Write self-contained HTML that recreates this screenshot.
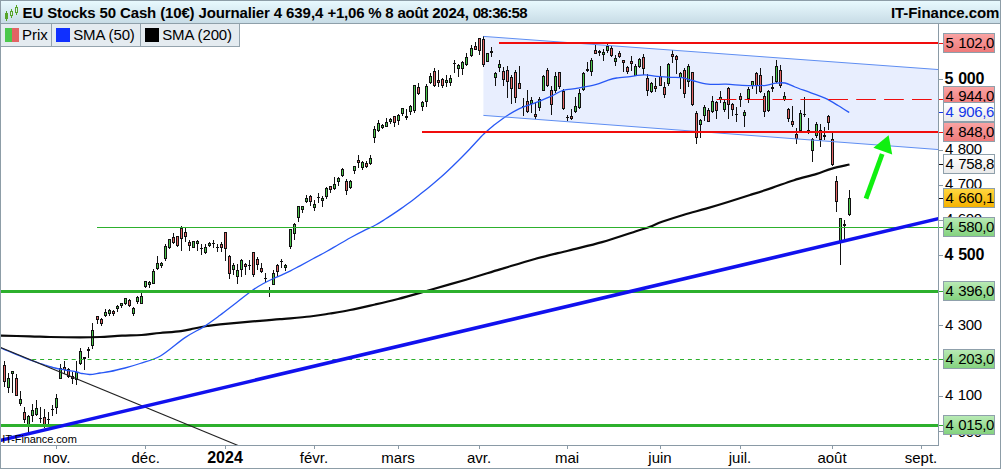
<!DOCTYPE html><html><head><meta charset="utf-8"><title>EU Stocks 50 Cash</title>
<style>
html,body{margin:0;padding:0;background:#fff;}
body{width:1001px;height:469px;position:relative;overflow:hidden;font-family:"Liberation Sans",Arial,sans-serif;color:#000;}
#frame{position:absolute;left:0;top:0;width:999px;height:467px;border:1px solid #8d9da7;box-sizing:content-box;pointer-events:none;}
#hdr{position:absolute;left:1px;top:1px;width:999px;height:22px;background:linear-gradient(#e8f9fe,#c8dce6);border-bottom:1px solid #8e9fa9;}
#title{position:absolute;left:22.6px;top:3.5px;font-weight:bold;font-size:15px;line-height:18px;white-space:nowrap;letter-spacing:-0.21px;}
#brand{position:absolute;right:1.6px;top:3.5px;font-weight:bold;font-size:15px;line-height:18px;white-space:nowrap;letter-spacing:-0.05px;}
#legend{position:absolute;left:1px;top:24px;height:22px;width:238px;background:#e4ebf0;border-bottom:1px solid #94a3ad;border-right:1px solid #94a3ad;}
#legend div{position:absolute;top:0;height:22px;font-size:15px;line-height:22px;white-space:nowrap;border-right:1px solid #94a3ad;box-sizing:border-box;}
#legend span{position:absolute;top:-0.3px;}
#legend i{position:absolute;left:4px;top:4px;width:14px;height:14px;display:block;}
.yl{position:absolute;left:945px;font-size:15px;letter-spacing:-0.42px;word-spacing:1.2px;line-height:16px;white-space:nowrap;}
.yl.b{font-weight:bold;font-size:16px;letter-spacing:-0.3px;word-spacing:1px;left:944.5px;margin-top:0px}
.yb{position:absolute;left:943px;width:50px;height:18px;border:1px solid #8fa0ab;font-size:15px;letter-spacing:-0.42px;word-spacing:1.2px;line-height:17px;text-indent:1.5px;white-space:nowrap;overflow:hidden;}
.tick{position:absolute;left:939px;width:4px;height:1px;background:#8a9aa6;}
.xl{position:absolute;top:448.7px;font-size:15px;line-height:18px;white-space:nowrap;transform:translateX(-50%);}
#wm{position:absolute;left:2.3px;top:432.6px;font-size:11px;line-height:13px;letter-spacing:-0.1px;}
</style></head><body>
<div id="hdr"></div>
<div id="legend"><div style="left:0;width:51px"><i style="background:linear-gradient(90deg,#4cc84c 50%,#e26464 50%)"></i><span style="left:21px">Prix</span></div><div style="left:51px;width:89px"><i style="background:#1030ff"></i><span style="left:21.2px;letter-spacing:-0.12px">SMA (50)</span></div><div style="left:140px;width:98px;border-right:none"><i style="background:#000"></i><span style="left:21.2px;letter-spacing:-0.12px">SMA (200)</span></div></div>
<svg width="1001" height="469" viewBox="0 0 1001 469" style="position:absolute;left:0;top:0">
<defs><clipPath id="plot"><rect x="1" y="24" width="937" height="421"/></clipPath>
<linearGradient id="gr" x1="0" y1="0" x2="0" y2="1"><stop offset="0" stop-color="#f9a3a3"/><stop offset="1" stop-color="#f07878"/></linearGradient>
<linearGradient id="gg" x1="0" y1="0" x2="0" y2="1"><stop offset="0" stop-color="#b4e8b0"/><stop offset="1" stop-color="#7fd07a"/></linearGradient>
<linearGradient id="gy" x1="0" y1="0" x2="0" y2="1"><stop offset="0" stop-color="#ffd84a"/><stop offset="1" stop-color="#f5b400"/></linearGradient>
<linearGradient id="gw" x1="0" y1="0" x2="0" y2="1"><stop offset="0" stop-color="#ffffff"/><stop offset="1" stop-color="#e9e9e9"/></linearGradient>
</defs>
<g clip-path="url(#plot)">
<polygon points="483.4,36.4 939,69.6 939,149.6 483.4,115.4" fill="#e8eefe"/>
<g shape-rendering="crispEdges">
<rect x="4" y="361" width="1" height="26" fill="#111"/>
<rect x="3" y="365" width="3" height="17" fill="#111"/>
<rect x="4" y="366" width="1" height="15" fill="#e26464"/>
<rect x="8" y="373" width="1" height="20" fill="#111"/>
<rect x="7" y="378" width="3" height="10" fill="#111"/>
<rect x="8" y="379" width="1" height="8" fill="#4cc84c"/>
<rect x="12" y="371" width="1" height="22" fill="#111"/>
<rect x="11" y="371" width="3" height="3" fill="#111"/>
<rect x="12" y="372" width="1" height="1" fill="#4cc84c"/>
<rect x="16" y="374" width="1" height="22" fill="#111"/>
<rect x="15" y="378" width="3" height="18" fill="#111"/>
<rect x="16" y="379" width="1" height="16" fill="#e26464"/>
<rect x="20" y="391" width="1" height="15" fill="#111"/>
<rect x="19" y="399" width="3" height="5" fill="#111"/>
<rect x="20" y="400" width="1" height="3" fill="#4cc84c"/>
<rect x="24" y="407" width="1" height="16" fill="#111"/>
<rect x="23" y="412" width="3" height="8" fill="#111"/>
<rect x="24" y="413" width="1" height="6" fill="#e26464"/>
<rect x="28" y="415" width="1" height="18" fill="#111"/>
<rect x="27" y="416" width="3" height="11" fill="#111"/>
<rect x="28" y="417" width="1" height="9" fill="#4cc84c"/>
<rect x="32" y="404" width="1" height="18" fill="#111"/>
<rect x="31" y="410" width="3" height="6" fill="#111"/>
<rect x="32" y="411" width="1" height="4" fill="#4cc84c"/>
<rect x="36" y="400" width="1" height="16" fill="#111"/>
<rect x="35" y="408" width="3" height="7" fill="#111"/>
<rect x="36" y="409" width="1" height="5" fill="#4cc84c"/>
<rect x="40" y="407" width="1" height="16" fill="#111"/>
<rect x="39" y="418" width="3" height="1" fill="#111"/>
<rect x="44" y="409" width="1" height="19" fill="#111"/>
<rect x="43" y="417" width="3" height="9" fill="#111"/>
<rect x="44" y="418" width="1" height="7" fill="#e26464"/>
<rect x="48" y="412" width="1" height="12" fill="#111"/>
<rect x="47" y="419" width="3" height="1" fill="#111"/>
<rect x="52" y="405" width="1" height="11" fill="#111"/>
<rect x="51" y="409" width="3" height="1" fill="#111"/>
<rect x="56" y="394" width="1" height="20" fill="#111"/>
<rect x="55" y="398" width="3" height="10" fill="#111"/>
<rect x="56" y="399" width="1" height="8" fill="#4cc84c"/>
<rect x="60" y="364" width="1" height="15" fill="#111"/>
<rect x="59" y="368" width="3" height="11" fill="#111"/>
<rect x="60" y="369" width="1" height="9" fill="#4cc84c"/>
<rect x="64" y="361" width="1" height="13" fill="#111"/>
<rect x="63" y="367" width="3" height="3" fill="#111"/>
<rect x="64" y="368" width="1" height="1" fill="#e26464"/>
<rect x="68" y="368" width="1" height="10" fill="#111"/>
<rect x="67" y="369" width="3" height="8" fill="#111"/>
<rect x="68" y="370" width="1" height="6" fill="#e26464"/>
<rect x="72" y="372" width="1" height="12" fill="#111"/>
<rect x="71" y="376" width="3" height="3" fill="#111"/>
<rect x="72" y="377" width="1" height="1" fill="#e26464"/>
<rect x="76" y="361" width="1" height="24" fill="#111"/>
<rect x="75" y="372" width="3" height="8" fill="#111"/>
<rect x="76" y="373" width="1" height="6" fill="#4cc84c"/>
<rect x="80" y="348" width="1" height="17" fill="#111"/>
<rect x="79" y="351" width="3" height="13" fill="#111"/>
<rect x="80" y="352" width="1" height="11" fill="#4cc84c"/>
<rect x="84" y="357" width="1" height="13" fill="#111"/>
<rect x="83" y="357" width="3" height="2" fill="#111"/>
<rect x="88" y="347" width="1" height="11" fill="#111"/>
<rect x="87" y="349" width="3" height="2" fill="#111"/>
<rect x="92" y="323" width="1" height="26" fill="#111"/>
<rect x="91" y="330" width="3" height="16" fill="#111"/>
<rect x="92" y="331" width="1" height="14" fill="#4cc84c"/>
<rect x="97" y="316" width="1" height="8" fill="#111"/>
<rect x="96" y="316" width="3" height="4" fill="#111"/>
<rect x="97" y="317" width="1" height="2" fill="#e26464"/>
<rect x="101" y="318" width="1" height="8" fill="#111"/>
<rect x="100" y="319" width="3" height="5" fill="#111"/>
<rect x="101" y="320" width="1" height="3" fill="#e26464"/>
<rect x="105" y="309" width="1" height="8" fill="#111"/>
<rect x="104" y="312" width="3" height="4" fill="#111"/>
<rect x="105" y="313" width="1" height="2" fill="#4cc84c"/>
<rect x="109" y="309" width="1" height="7" fill="#111"/>
<rect x="108" y="310" width="3" height="4" fill="#111"/>
<rect x="109" y="311" width="1" height="2" fill="#4cc84c"/>
<rect x="113" y="310" width="1" height="6" fill="#111"/>
<rect x="112" y="311" width="3" height="3" fill="#111"/>
<rect x="113" y="312" width="1" height="1" fill="#e26464"/>
<rect x="117" y="305" width="1" height="7" fill="#111"/>
<rect x="116" y="306" width="3" height="3" fill="#111"/>
<rect x="117" y="307" width="1" height="1" fill="#4cc84c"/>
<rect x="121" y="303" width="1" height="5" fill="#111"/>
<rect x="120" y="303" width="3" height="3" fill="#111"/>
<rect x="121" y="304" width="1" height="1" fill="#4cc84c"/>
<rect x="125" y="298" width="1" height="7" fill="#111"/>
<rect x="124" y="298" width="3" height="6" fill="#111"/>
<rect x="125" y="299" width="1" height="4" fill="#4cc84c"/>
<rect x="129" y="299" width="1" height="8" fill="#111"/>
<rect x="128" y="300" width="3" height="6" fill="#111"/>
<rect x="129" y="301" width="1" height="4" fill="#e26464"/>
<rect x="133" y="307" width="1" height="9" fill="#111"/>
<rect x="132" y="308" width="3" height="6" fill="#111"/>
<rect x="133" y="309" width="1" height="4" fill="#4cc84c"/>
<rect x="137" y="296" width="1" height="8" fill="#111"/>
<rect x="136" y="297" width="3" height="5" fill="#111"/>
<rect x="137" y="298" width="1" height="3" fill="#4cc84c"/>
<rect x="141" y="293" width="1" height="11" fill="#111"/>
<rect x="140" y="296" width="3" height="8" fill="#111"/>
<rect x="141" y="297" width="1" height="6" fill="#4cc84c"/>
<rect x="145" y="281" width="1" height="7" fill="#111"/>
<rect x="144" y="281" width="3" height="6" fill="#111"/>
<rect x="145" y="282" width="1" height="4" fill="#4cc84c"/>
<rect x="149" y="281" width="1" height="7" fill="#111"/>
<rect x="148" y="282" width="3" height="3" fill="#111"/>
<rect x="149" y="283" width="1" height="1" fill="#4cc84c"/>
<rect x="153" y="269" width="1" height="15" fill="#111"/>
<rect x="152" y="271" width="3" height="13" fill="#111"/>
<rect x="153" y="272" width="1" height="11" fill="#4cc84c"/>
<rect x="157" y="256" width="1" height="14" fill="#111"/>
<rect x="156" y="263" width="3" height="6" fill="#111"/>
<rect x="157" y="264" width="1" height="4" fill="#4cc84c"/>
<rect x="161" y="262" width="1" height="6" fill="#111"/>
<rect x="160" y="263" width="3" height="3" fill="#111"/>
<rect x="161" y="264" width="1" height="1" fill="#4cc84c"/>
<rect x="165" y="244" width="1" height="17" fill="#111"/>
<rect x="164" y="246" width="3" height="13" fill="#111"/>
<rect x="165" y="247" width="1" height="11" fill="#4cc84c"/>
<rect x="169" y="239" width="1" height="10" fill="#111"/>
<rect x="168" y="239" width="3" height="9" fill="#111"/>
<rect x="169" y="240" width="1" height="7" fill="#4cc84c"/>
<rect x="173" y="233" width="1" height="11" fill="#111"/>
<rect x="172" y="237" width="3" height="6" fill="#111"/>
<rect x="173" y="238" width="1" height="4" fill="#e26464"/>
<rect x="177" y="236" width="1" height="11" fill="#111"/>
<rect x="176" y="236" width="3" height="10" fill="#111"/>
<rect x="177" y="237" width="1" height="8" fill="#e26464"/>
<rect x="181" y="226" width="1" height="25" fill="#111"/>
<rect x="180" y="228" width="3" height="11" fill="#111"/>
<rect x="181" y="229" width="1" height="9" fill="#e26464"/>
<rect x="185" y="228" width="1" height="14" fill="#111"/>
<rect x="184" y="232" width="3" height="5" fill="#111"/>
<rect x="185" y="233" width="1" height="3" fill="#e26464"/>
<rect x="189" y="240" width="1" height="11" fill="#111"/>
<rect x="188" y="242" width="3" height="4" fill="#111"/>
<rect x="189" y="243" width="1" height="2" fill="#e26464"/>
<rect x="193" y="241" width="1" height="7" fill="#111"/>
<rect x="192" y="241" width="3" height="7" fill="#111"/>
<rect x="193" y="242" width="1" height="5" fill="#4cc84c"/>
<rect x="197" y="240" width="1" height="11" fill="#111"/>
<rect x="196" y="241" width="3" height="3" fill="#111"/>
<rect x="197" y="242" width="1" height="1" fill="#4cc84c"/>
<rect x="201" y="244" width="1" height="11" fill="#111"/>
<rect x="200" y="248" width="3" height="1" fill="#111"/>
<rect x="205" y="244" width="1" height="10" fill="#111"/>
<rect x="204" y="247" width="3" height="6" fill="#111"/>
<rect x="205" y="248" width="1" height="4" fill="#4cc84c"/>
<rect x="209" y="242" width="1" height="5" fill="#111"/>
<rect x="208" y="243" width="3" height="3" fill="#111"/>
<rect x="209" y="244" width="1" height="1" fill="#4cc84c"/>
<rect x="213" y="240" width="1" height="8" fill="#111"/>
<rect x="212" y="243" width="3" height="1" fill="#111"/>
<rect x="217" y="244" width="1" height="8" fill="#111"/>
<rect x="216" y="247" width="3" height="1" fill="#111"/>
<rect x="221" y="242" width="1" height="10" fill="#111"/>
<rect x="220" y="244" width="3" height="4" fill="#111"/>
<rect x="221" y="245" width="1" height="2" fill="#e26464"/>
<rect x="225" y="232" width="1" height="29" fill="#111"/>
<rect x="224" y="232" width="3" height="17" fill="#111"/>
<rect x="225" y="233" width="1" height="15" fill="#e26464"/>
<rect x="229" y="255" width="1" height="24" fill="#111"/>
<rect x="228" y="256" width="3" height="18" fill="#111"/>
<rect x="229" y="257" width="1" height="16" fill="#e26464"/>
<rect x="233" y="263" width="1" height="12" fill="#111"/>
<rect x="232" y="265" width="3" height="5" fill="#111"/>
<rect x="233" y="266" width="1" height="3" fill="#4cc84c"/>
<rect x="237" y="264" width="1" height="20" fill="#111"/>
<rect x="236" y="270" width="3" height="7" fill="#111"/>
<rect x="237" y="271" width="1" height="5" fill="#4cc84c"/>
<rect x="241" y="259" width="1" height="18" fill="#111"/>
<rect x="240" y="260" width="3" height="10" fill="#111"/>
<rect x="241" y="261" width="1" height="8" fill="#4cc84c"/>
<rect x="245" y="263" width="1" height="12" fill="#111"/>
<rect x="244" y="264" width="3" height="3" fill="#111"/>
<rect x="245" y="265" width="1" height="1" fill="#e26464"/>
<rect x="249" y="260" width="1" height="10" fill="#111"/>
<rect x="248" y="265" width="3" height="1" fill="#111"/>
<rect x="253" y="252" width="1" height="25" fill="#111"/>
<rect x="252" y="252" width="3" height="23" fill="#111"/>
<rect x="253" y="253" width="1" height="21" fill="#e26464"/>
<rect x="257" y="257" width="1" height="13" fill="#111"/>
<rect x="256" y="259" width="3" height="6" fill="#111"/>
<rect x="257" y="260" width="1" height="4" fill="#e26464"/>
<rect x="261" y="263" width="1" height="10" fill="#111"/>
<rect x="260" y="268" width="3" height="4" fill="#111"/>
<rect x="261" y="269" width="1" height="2" fill="#e26464"/>
<rect x="265" y="273" width="1" height="9" fill="#111"/>
<rect x="264" y="278" width="3" height="1" fill="#111"/>
<rect x="269" y="287" width="1" height="10" fill="#111"/>
<rect x="268" y="290" width="3" height="1" fill="#111"/>
<rect x="273" y="270" width="1" height="15" fill="#111"/>
<rect x="272" y="273" width="3" height="12" fill="#111"/>
<rect x="273" y="274" width="1" height="10" fill="#4cc84c"/>
<rect x="277" y="264" width="1" height="13" fill="#111"/>
<rect x="276" y="265" width="3" height="7" fill="#111"/>
<rect x="277" y="266" width="1" height="5" fill="#e26464"/>
<rect x="281" y="259" width="1" height="9" fill="#111"/>
<rect x="280" y="261" width="3" height="1" fill="#111"/>
<rect x="285" y="264" width="1" height="7" fill="#111"/>
<rect x="284" y="265" width="3" height="3" fill="#111"/>
<rect x="285" y="266" width="1" height="1" fill="#4cc84c"/>
<rect x="290" y="229" width="1" height="20" fill="#111"/>
<rect x="289" y="229" width="3" height="18" fill="#111"/>
<rect x="290" y="230" width="1" height="16" fill="#4cc84c"/>
<rect x="294" y="223" width="1" height="17" fill="#111"/>
<rect x="293" y="224" width="3" height="10" fill="#111"/>
<rect x="294" y="225" width="1" height="8" fill="#4cc84c"/>
<rect x="298" y="206" width="1" height="16" fill="#111"/>
<rect x="297" y="206" width="3" height="12" fill="#111"/>
<rect x="298" y="207" width="1" height="10" fill="#4cc84c"/>
<rect x="302" y="206" width="1" height="7" fill="#111"/>
<rect x="301" y="206" width="3" height="4" fill="#111"/>
<rect x="302" y="207" width="1" height="2" fill="#4cc84c"/>
<rect x="306" y="195" width="1" height="8" fill="#111"/>
<rect x="305" y="198" width="3" height="4" fill="#111"/>
<rect x="306" y="199" width="1" height="2" fill="#4cc84c"/>
<rect x="310" y="195" width="1" height="11" fill="#111"/>
<rect x="309" y="196" width="3" height="6" fill="#111"/>
<rect x="310" y="197" width="1" height="4" fill="#e26464"/>
<rect x="314" y="200" width="1" height="11" fill="#111"/>
<rect x="313" y="204" width="3" height="4" fill="#111"/>
<rect x="314" y="205" width="1" height="2" fill="#4cc84c"/>
<rect x="318" y="193" width="1" height="10" fill="#111"/>
<rect x="317" y="197" width="3" height="1" fill="#111"/>
<rect x="322" y="196" width="1" height="11" fill="#111"/>
<rect x="321" y="198" width="3" height="3" fill="#111"/>
<rect x="322" y="199" width="1" height="1" fill="#4cc84c"/>
<rect x="326" y="187" width="1" height="12" fill="#111"/>
<rect x="325" y="188" width="3" height="9" fill="#111"/>
<rect x="326" y="189" width="1" height="7" fill="#4cc84c"/>
<rect x="330" y="186" width="1" height="7" fill="#111"/>
<rect x="329" y="186" width="3" height="4" fill="#111"/>
<rect x="330" y="187" width="1" height="2" fill="#e26464"/>
<rect x="334" y="177" width="1" height="13" fill="#111"/>
<rect x="333" y="184" width="3" height="5" fill="#111"/>
<rect x="334" y="185" width="1" height="3" fill="#4cc84c"/>
<rect x="338" y="177" width="1" height="9" fill="#111"/>
<rect x="337" y="178" width="3" height="4" fill="#111"/>
<rect x="338" y="179" width="1" height="2" fill="#4cc84c"/>
<rect x="342" y="168" width="1" height="9" fill="#111"/>
<rect x="341" y="169" width="3" height="7" fill="#111"/>
<rect x="342" y="170" width="1" height="5" fill="#4cc84c"/>
<rect x="346" y="179" width="1" height="16" fill="#111"/>
<rect x="345" y="181" width="3" height="10" fill="#111"/>
<rect x="346" y="182" width="1" height="8" fill="#e26464"/>
<rect x="350" y="180" width="1" height="9" fill="#111"/>
<rect x="349" y="181" width="3" height="7" fill="#111"/>
<rect x="350" y="182" width="1" height="5" fill="#4cc84c"/>
<rect x="354" y="166" width="1" height="8" fill="#111"/>
<rect x="353" y="166" width="3" height="5" fill="#111"/>
<rect x="354" y="167" width="1" height="3" fill="#4cc84c"/>
<rect x="358" y="155" width="1" height="13" fill="#111"/>
<rect x="357" y="160" width="3" height="3" fill="#111"/>
<rect x="358" y="161" width="1" height="1" fill="#e26464"/>
<rect x="362" y="161" width="1" height="9" fill="#111"/>
<rect x="361" y="162" width="3" height="6" fill="#111"/>
<rect x="362" y="163" width="1" height="4" fill="#4cc84c"/>
<rect x="366" y="161" width="1" height="7" fill="#111"/>
<rect x="365" y="163" width="3" height="4" fill="#111"/>
<rect x="366" y="164" width="1" height="2" fill="#e26464"/>
<rect x="370" y="155" width="1" height="10" fill="#111"/>
<rect x="369" y="158" width="3" height="6" fill="#111"/>
<rect x="370" y="159" width="1" height="4" fill="#4cc84c"/>
<rect x="374" y="126" width="1" height="17" fill="#111"/>
<rect x="373" y="129" width="3" height="9" fill="#111"/>
<rect x="374" y="130" width="1" height="7" fill="#4cc84c"/>
<rect x="378" y="120" width="1" height="12" fill="#111"/>
<rect x="377" y="123" width="3" height="8" fill="#111"/>
<rect x="378" y="124" width="1" height="6" fill="#4cc84c"/>
<rect x="382" y="124" width="1" height="5" fill="#111"/>
<rect x="381" y="125" width="3" height="3" fill="#111"/>
<rect x="382" y="126" width="1" height="1" fill="#4cc84c"/>
<rect x="386" y="118" width="1" height="9" fill="#111"/>
<rect x="385" y="122" width="3" height="5" fill="#111"/>
<rect x="386" y="123" width="1" height="3" fill="#4cc84c"/>
<rect x="390" y="118" width="1" height="6" fill="#111"/>
<rect x="389" y="119" width="3" height="3" fill="#111"/>
<rect x="390" y="120" width="1" height="1" fill="#4cc84c"/>
<rect x="394" y="116" width="1" height="11" fill="#111"/>
<rect x="393" y="116" width="3" height="7" fill="#111"/>
<rect x="394" y="117" width="1" height="5" fill="#e26464"/>
<rect x="398" y="114" width="1" height="11" fill="#111"/>
<rect x="397" y="115" width="3" height="6" fill="#111"/>
<rect x="398" y="116" width="1" height="4" fill="#4cc84c"/>
<rect x="402" y="108" width="1" height="8" fill="#111"/>
<rect x="401" y="108" width="3" height="6" fill="#111"/>
<rect x="402" y="109" width="1" height="4" fill="#4cc84c"/>
<rect x="406" y="109" width="1" height="11" fill="#111"/>
<rect x="405" y="116" width="3" height="2" fill="#111"/>
<rect x="410" y="105" width="1" height="10" fill="#111"/>
<rect x="409" y="106" width="3" height="6" fill="#111"/>
<rect x="410" y="107" width="1" height="4" fill="#4cc84c"/>
<rect x="414" y="85" width="1" height="28" fill="#111"/>
<rect x="413" y="85" width="3" height="26" fill="#111"/>
<rect x="414" y="86" width="1" height="24" fill="#4cc84c"/>
<rect x="418" y="83" width="1" height="12" fill="#111"/>
<rect x="417" y="87" width="3" height="7" fill="#111"/>
<rect x="418" y="88" width="1" height="5" fill="#e26464"/>
<rect x="422" y="101" width="1" height="10" fill="#111"/>
<rect x="421" y="102" width="3" height="5" fill="#111"/>
<rect x="422" y="103" width="1" height="3" fill="#4cc84c"/>
<rect x="426" y="84" width="1" height="23" fill="#111"/>
<rect x="425" y="86" width="3" height="16" fill="#111"/>
<rect x="426" y="87" width="1" height="14" fill="#4cc84c"/>
<rect x="430" y="73" width="1" height="11" fill="#111"/>
<rect x="429" y="76" width="3" height="7" fill="#111"/>
<rect x="430" y="77" width="1" height="5" fill="#4cc84c"/>
<rect x="434" y="68" width="1" height="19" fill="#111"/>
<rect x="433" y="71" width="3" height="15" fill="#111"/>
<rect x="434" y="72" width="1" height="13" fill="#e26464"/>
<rect x="438" y="70" width="1" height="17" fill="#111"/>
<rect x="437" y="80" width="3" height="3" fill="#111"/>
<rect x="438" y="81" width="1" height="1" fill="#e26464"/>
<rect x="442" y="78" width="1" height="10" fill="#111"/>
<rect x="441" y="79" width="3" height="7" fill="#111"/>
<rect x="442" y="80" width="1" height="5" fill="#e26464"/>
<rect x="446" y="75" width="1" height="12" fill="#111"/>
<rect x="445" y="80" width="3" height="3" fill="#111"/>
<rect x="446" y="81" width="1" height="1" fill="#4cc84c"/>
<rect x="450" y="75" width="1" height="11" fill="#111"/>
<rect x="449" y="78" width="3" height="5" fill="#111"/>
<rect x="450" y="79" width="1" height="3" fill="#4cc84c"/>
<rect x="454" y="60" width="1" height="13" fill="#111"/>
<rect x="453" y="63" width="3" height="1" fill="#111"/>
<rect x="458" y="64" width="1" height="13" fill="#111"/>
<rect x="457" y="65" width="3" height="4" fill="#111"/>
<rect x="458" y="66" width="1" height="2" fill="#4cc84c"/>
<rect x="462" y="61" width="1" height="14" fill="#111"/>
<rect x="461" y="62" width="3" height="7" fill="#111"/>
<rect x="462" y="63" width="1" height="5" fill="#4cc84c"/>
<rect x="466" y="53" width="1" height="13" fill="#111"/>
<rect x="465" y="57" width="3" height="8" fill="#111"/>
<rect x="466" y="58" width="1" height="6" fill="#4cc84c"/>
<rect x="471" y="45" width="1" height="12" fill="#111"/>
<rect x="470" y="48" width="3" height="8" fill="#111"/>
<rect x="471" y="49" width="1" height="6" fill="#4cc84c"/>
<rect x="475" y="42" width="1" height="8" fill="#111"/>
<rect x="474" y="46" width="3" height="4" fill="#111"/>
<rect x="475" y="47" width="1" height="2" fill="#e26464"/>
<rect x="479" y="38" width="1" height="17" fill="#111"/>
<rect x="478" y="38" width="3" height="13" fill="#111"/>
<rect x="479" y="39" width="1" height="11" fill="#e26464"/>
<rect x="483" y="36" width="1" height="31" fill="#111"/>
<rect x="482" y="39" width="3" height="26" fill="#111"/>
<rect x="483" y="40" width="1" height="24" fill="#e26464"/>
<rect x="487" y="53" width="1" height="9" fill="#111"/>
<rect x="486" y="53" width="3" height="9" fill="#111"/>
<rect x="487" y="54" width="1" height="7" fill="#4cc84c"/>
<rect x="491" y="47" width="1" height="10" fill="#111"/>
<rect x="490" y="51" width="3" height="2" fill="#111"/>
<rect x="495" y="72" width="1" height="14" fill="#111"/>
<rect x="494" y="73" width="3" height="5" fill="#111"/>
<rect x="495" y="74" width="1" height="3" fill="#4cc84c"/>
<rect x="499" y="60" width="1" height="12" fill="#111"/>
<rect x="498" y="64" width="3" height="4" fill="#111"/>
<rect x="499" y="65" width="1" height="2" fill="#4cc84c"/>
<rect x="503" y="67" width="1" height="19" fill="#111"/>
<rect x="502" y="71" width="3" height="9" fill="#111"/>
<rect x="503" y="72" width="1" height="7" fill="#e26464"/>
<rect x="507" y="66" width="1" height="32" fill="#111"/>
<rect x="506" y="70" width="3" height="12" fill="#111"/>
<rect x="507" y="71" width="1" height="10" fill="#e26464"/>
<rect x="511" y="75" width="1" height="29" fill="#111"/>
<rect x="510" y="77" width="3" height="12" fill="#111"/>
<rect x="511" y="78" width="1" height="10" fill="#e26464"/>
<rect x="515" y="70" width="1" height="33" fill="#111"/>
<rect x="514" y="72" width="3" height="26" fill="#111"/>
<rect x="515" y="73" width="1" height="24" fill="#e26464"/>
<rect x="519" y="66" width="1" height="23" fill="#111"/>
<rect x="518" y="83" width="3" height="6" fill="#111"/>
<rect x="519" y="84" width="1" height="4" fill="#e26464"/>
<rect x="523" y="98" width="1" height="18" fill="#111"/>
<rect x="522" y="106" width="3" height="1" fill="#111"/>
<rect x="527" y="90" width="1" height="23" fill="#111"/>
<rect x="526" y="101" width="3" height="11" fill="#111"/>
<rect x="527" y="102" width="1" height="9" fill="#e26464"/>
<rect x="531" y="97" width="1" height="16" fill="#111"/>
<rect x="530" y="100" width="3" height="4" fill="#111"/>
<rect x="531" y="101" width="1" height="2" fill="#4cc84c"/>
<rect x="535" y="102" width="1" height="17" fill="#111"/>
<rect x="534" y="114" width="3" height="3" fill="#111"/>
<rect x="535" y="115" width="1" height="1" fill="#e26464"/>
<rect x="539" y="97" width="1" height="14" fill="#111"/>
<rect x="538" y="99" width="3" height="9" fill="#111"/>
<rect x="539" y="100" width="1" height="7" fill="#4cc84c"/>
<rect x="543" y="75" width="1" height="16" fill="#111"/>
<rect x="542" y="76" width="3" height="15" fill="#111"/>
<rect x="543" y="77" width="1" height="13" fill="#4cc84c"/>
<rect x="547" y="68" width="1" height="19" fill="#111"/>
<rect x="546" y="70" width="3" height="16" fill="#111"/>
<rect x="547" y="71" width="1" height="14" fill="#e26464"/>
<rect x="551" y="86" width="1" height="29" fill="#111"/>
<rect x="550" y="90" width="3" height="15" fill="#111"/>
<rect x="551" y="91" width="1" height="13" fill="#e26464"/>
<rect x="555" y="72" width="1" height="21" fill="#111"/>
<rect x="554" y="76" width="3" height="15" fill="#111"/>
<rect x="555" y="77" width="1" height="13" fill="#4cc84c"/>
<rect x="559" y="72" width="1" height="17" fill="#111"/>
<rect x="558" y="72" width="3" height="15" fill="#111"/>
<rect x="559" y="73" width="1" height="13" fill="#e26464"/>
<rect x="563" y="89" width="1" height="21" fill="#111"/>
<rect x="562" y="91" width="3" height="18" fill="#111"/>
<rect x="563" y="92" width="1" height="16" fill="#e26464"/>
<rect x="567" y="115" width="1" height="6" fill="#111"/>
<rect x="566" y="117" width="3" height="1" fill="#111"/>
<rect x="571" y="109" width="1" height="11" fill="#111"/>
<rect x="570" y="116" width="3" height="3" fill="#111"/>
<rect x="571" y="117" width="1" height="1" fill="#e26464"/>
<rect x="575" y="97" width="1" height="16" fill="#111"/>
<rect x="574" y="106" width="3" height="6" fill="#111"/>
<rect x="575" y="107" width="1" height="4" fill="#4cc84c"/>
<rect x="579" y="89" width="1" height="20" fill="#111"/>
<rect x="578" y="93" width="3" height="15" fill="#111"/>
<rect x="579" y="94" width="1" height="13" fill="#4cc84c"/>
<rect x="583" y="72" width="1" height="19" fill="#111"/>
<rect x="582" y="73" width="3" height="17" fill="#111"/>
<rect x="583" y="74" width="1" height="15" fill="#4cc84c"/>
<rect x="587" y="62" width="1" height="10" fill="#111"/>
<rect x="586" y="69" width="3" height="2" fill="#111"/>
<rect x="591" y="58" width="1" height="18" fill="#111"/>
<rect x="590" y="60" width="3" height="12" fill="#111"/>
<rect x="591" y="61" width="1" height="10" fill="#4cc84c"/>
<rect x="595" y="45" width="1" height="9" fill="#111"/>
<rect x="594" y="50" width="3" height="4" fill="#111"/>
<rect x="595" y="51" width="1" height="2" fill="#e26464"/>
<rect x="599" y="50" width="1" height="6" fill="#111"/>
<rect x="598" y="51" width="3" height="2" fill="#111"/>
<rect x="603" y="49" width="1" height="12" fill="#111"/>
<rect x="602" y="52" width="3" height="3" fill="#111"/>
<rect x="603" y="53" width="1" height="1" fill="#4cc84c"/>
<rect x="607" y="44" width="1" height="9" fill="#111"/>
<rect x="606" y="46" width="3" height="5" fill="#111"/>
<rect x="607" y="47" width="1" height="3" fill="#4cc84c"/>
<rect x="611" y="46" width="1" height="11" fill="#111"/>
<rect x="610" y="48" width="3" height="8" fill="#111"/>
<rect x="611" y="49" width="1" height="6" fill="#e26464"/>
<rect x="615" y="55" width="1" height="11" fill="#111"/>
<rect x="614" y="58" width="3" height="4" fill="#111"/>
<rect x="615" y="59" width="1" height="2" fill="#4cc84c"/>
<rect x="619" y="51" width="1" height="7" fill="#111"/>
<rect x="618" y="53" width="3" height="4" fill="#111"/>
<rect x="619" y="54" width="1" height="2" fill="#e26464"/>
<rect x="623" y="60" width="1" height="12" fill="#111"/>
<rect x="622" y="60" width="3" height="3" fill="#111"/>
<rect x="623" y="61" width="1" height="1" fill="#e26464"/>
<rect x="627" y="66" width="1" height="8" fill="#111"/>
<rect x="626" y="67" width="3" height="5" fill="#111"/>
<rect x="627" y="68" width="1" height="3" fill="#e26464"/>
<rect x="631" y="56" width="1" height="15" fill="#111"/>
<rect x="630" y="61" width="3" height="3" fill="#111"/>
<rect x="631" y="62" width="1" height="1" fill="#e26464"/>
<rect x="635" y="64" width="1" height="12" fill="#111"/>
<rect x="634" y="66" width="3" height="10" fill="#111"/>
<rect x="635" y="67" width="1" height="8" fill="#4cc84c"/>
<rect x="639" y="58" width="1" height="10" fill="#111"/>
<rect x="638" y="59" width="3" height="8" fill="#111"/>
<rect x="639" y="60" width="1" height="6" fill="#4cc84c"/>
<rect x="643" y="54" width="1" height="21" fill="#111"/>
<rect x="642" y="57" width="3" height="12" fill="#111"/>
<rect x="643" y="58" width="1" height="10" fill="#e26464"/>
<rect x="647" y="74" width="1" height="22" fill="#111"/>
<rect x="646" y="78" width="3" height="13" fill="#111"/>
<rect x="647" y="79" width="1" height="11" fill="#e26464"/>
<rect x="651" y="82" width="1" height="11" fill="#111"/>
<rect x="650" y="83" width="3" height="9" fill="#111"/>
<rect x="651" y="84" width="1" height="7" fill="#4cc84c"/>
<rect x="655" y="78" width="1" height="14" fill="#111"/>
<rect x="654" y="86" width="3" height="3" fill="#111"/>
<rect x="655" y="87" width="1" height="1" fill="#e26464"/>
<rect x="660" y="66" width="1" height="20" fill="#111"/>
<rect x="659" y="76" width="3" height="10" fill="#111"/>
<rect x="660" y="77" width="1" height="8" fill="#e26464"/>
<rect x="664" y="82" width="1" height="16" fill="#111"/>
<rect x="663" y="87" width="3" height="8" fill="#111"/>
<rect x="664" y="88" width="1" height="6" fill="#e26464"/>
<rect x="668" y="63" width="1" height="23" fill="#111"/>
<rect x="667" y="64" width="3" height="20" fill="#111"/>
<rect x="668" y="65" width="1" height="18" fill="#4cc84c"/>
<rect x="672" y="50" width="1" height="13" fill="#111"/>
<rect x="671" y="54" width="3" height="3" fill="#111"/>
<rect x="672" y="55" width="1" height="1" fill="#e26464"/>
<rect x="676" y="55" width="1" height="19" fill="#111"/>
<rect x="675" y="56" width="3" height="4" fill="#111"/>
<rect x="676" y="57" width="1" height="2" fill="#e26464"/>
<rect x="680" y="72" width="1" height="17" fill="#111"/>
<rect x="679" y="73" width="3" height="5" fill="#111"/>
<rect x="680" y="74" width="1" height="3" fill="#4cc84c"/>
<rect x="684" y="68" width="1" height="30" fill="#111"/>
<rect x="683" y="70" width="3" height="24" fill="#111"/>
<rect x="684" y="71" width="1" height="22" fill="#e26464"/>
<rect x="688" y="64" width="1" height="23" fill="#111"/>
<rect x="687" y="66" width="3" height="16" fill="#111"/>
<rect x="688" y="67" width="1" height="14" fill="#4cc84c"/>
<rect x="692" y="72" width="1" height="34" fill="#111"/>
<rect x="691" y="72" width="3" height="33" fill="#111"/>
<rect x="692" y="73" width="1" height="31" fill="#e26464"/>
<rect x="696" y="111" width="1" height="33" fill="#111"/>
<rect x="695" y="113" width="3" height="25" fill="#111"/>
<rect x="696" y="114" width="1" height="23" fill="#e26464"/>
<rect x="700" y="119" width="1" height="19" fill="#111"/>
<rect x="699" y="120" width="3" height="5" fill="#111"/>
<rect x="700" y="121" width="1" height="3" fill="#4cc84c"/>
<rect x="704" y="105" width="1" height="16" fill="#111"/>
<rect x="703" y="107" width="3" height="9" fill="#111"/>
<rect x="704" y="108" width="1" height="7" fill="#4cc84c"/>
<rect x="708" y="108" width="1" height="14" fill="#111"/>
<rect x="707" y="110" width="3" height="12" fill="#111"/>
<rect x="708" y="111" width="1" height="10" fill="#e26464"/>
<rect x="712" y="96" width="1" height="17" fill="#111"/>
<rect x="711" y="101" width="3" height="11" fill="#111"/>
<rect x="712" y="102" width="1" height="9" fill="#4cc84c"/>
<rect x="716" y="101" width="1" height="18" fill="#111"/>
<rect x="715" y="102" width="3" height="9" fill="#111"/>
<rect x="716" y="103" width="1" height="7" fill="#e26464"/>
<rect x="720" y="91" width="1" height="12" fill="#111"/>
<rect x="719" y="97" width="3" height="3" fill="#111"/>
<rect x="720" y="98" width="1" height="1" fill="#4cc84c"/>
<rect x="724" y="100" width="1" height="12" fill="#111"/>
<rect x="723" y="102" width="3" height="8" fill="#111"/>
<rect x="724" y="103" width="1" height="6" fill="#4cc84c"/>
<rect x="728" y="87" width="1" height="32" fill="#111"/>
<rect x="727" y="88" width="3" height="17" fill="#111"/>
<rect x="728" y="89" width="1" height="15" fill="#e26464"/>
<rect x="732" y="103" width="1" height="13" fill="#111"/>
<rect x="731" y="104" width="3" height="6" fill="#111"/>
<rect x="732" y="105" width="1" height="4" fill="#e26464"/>
<rect x="736" y="107" width="1" height="15" fill="#111"/>
<rect x="735" y="114" width="3" height="1" fill="#111"/>
<rect x="740" y="93" width="1" height="14" fill="#111"/>
<rect x="739" y="96" width="3" height="4" fill="#111"/>
<rect x="740" y="97" width="1" height="2" fill="#e26464"/>
<rect x="744" y="110" width="1" height="17" fill="#111"/>
<rect x="743" y="112" width="3" height="4" fill="#111"/>
<rect x="744" y="113" width="1" height="2" fill="#4cc84c"/>
<rect x="748" y="87" width="1" height="16" fill="#111"/>
<rect x="747" y="89" width="3" height="10" fill="#111"/>
<rect x="748" y="90" width="1" height="8" fill="#4cc84c"/>
<rect x="752" y="81" width="1" height="8" fill="#111"/>
<rect x="751" y="81" width="3" height="5" fill="#111"/>
<rect x="752" y="82" width="1" height="3" fill="#4cc84c"/>
<rect x="756" y="72" width="1" height="22" fill="#111"/>
<rect x="755" y="73" width="3" height="13" fill="#111"/>
<rect x="756" y="74" width="1" height="11" fill="#e26464"/>
<rect x="760" y="68" width="1" height="25" fill="#111"/>
<rect x="759" y="75" width="3" height="17" fill="#111"/>
<rect x="760" y="76" width="1" height="15" fill="#e26464"/>
<rect x="764" y="93" width="1" height="24" fill="#111"/>
<rect x="763" y="96" width="3" height="16" fill="#111"/>
<rect x="764" y="97" width="1" height="14" fill="#e26464"/>
<rect x="768" y="90" width="1" height="22" fill="#111"/>
<rect x="767" y="91" width="3" height="20" fill="#111"/>
<rect x="768" y="92" width="1" height="18" fill="#4cc84c"/>
<rect x="772" y="76" width="1" height="16" fill="#111"/>
<rect x="771" y="87" width="3" height="2" fill="#111"/>
<rect x="776" y="60" width="1" height="23" fill="#111"/>
<rect x="775" y="66" width="3" height="16" fill="#111"/>
<rect x="776" y="67" width="1" height="14" fill="#4cc84c"/>
<rect x="780" y="65" width="1" height="23" fill="#111"/>
<rect x="779" y="70" width="3" height="16" fill="#111"/>
<rect x="780" y="71" width="1" height="14" fill="#e26464"/>
<rect x="784" y="92" width="1" height="9" fill="#111"/>
<rect x="783" y="96" width="3" height="4" fill="#111"/>
<rect x="784" y="97" width="1" height="2" fill="#4cc84c"/>
<rect x="788" y="108" width="1" height="14" fill="#111"/>
<rect x="787" y="109" width="3" height="10" fill="#111"/>
<rect x="788" y="110" width="1" height="8" fill="#e26464"/>
<rect x="792" y="106" width="1" height="21" fill="#111"/>
<rect x="791" y="121" width="3" height="4" fill="#111"/>
<rect x="792" y="122" width="1" height="2" fill="#e26464"/>
<rect x="796" y="128" width="1" height="16" fill="#111"/>
<rect x="795" y="134" width="3" height="5" fill="#111"/>
<rect x="796" y="135" width="1" height="3" fill="#e26464"/>
<rect x="800" y="110" width="1" height="21" fill="#111"/>
<rect x="799" y="113" width="3" height="18" fill="#111"/>
<rect x="800" y="114" width="1" height="16" fill="#4cc84c"/>
<rect x="804" y="97" width="1" height="20" fill="#111"/>
<rect x="803" y="114" width="3" height="1" fill="#111"/>
<rect x="808" y="118" width="1" height="16" fill="#111"/>
<rect x="807" y="130" width="3" height="1" fill="#111"/>
<rect x="812" y="138" width="1" height="24" fill="#111"/>
<rect x="811" y="139" width="3" height="12" fill="#111"/>
<rect x="812" y="140" width="1" height="10" fill="#4cc84c"/>
<rect x="816" y="122" width="1" height="16" fill="#111"/>
<rect x="815" y="124" width="3" height="12" fill="#111"/>
<rect x="816" y="125" width="1" height="10" fill="#4cc84c"/>
<rect x="820" y="124" width="1" height="23" fill="#111"/>
<rect x="819" y="130" width="3" height="10" fill="#111"/>
<rect x="820" y="131" width="1" height="8" fill="#e26464"/>
<rect x="824" y="127" width="1" height="13" fill="#111"/>
<rect x="823" y="135" width="3" height="2" fill="#111"/>
<rect x="828" y="115" width="1" height="15" fill="#111"/>
<rect x="827" y="116" width="3" height="7" fill="#111"/>
<rect x="828" y="117" width="1" height="5" fill="#e26464"/>
<rect x="832" y="133" width="1" height="33" fill="#111"/>
<rect x="831" y="139" width="3" height="26" fill="#111"/>
<rect x="832" y="140" width="1" height="24" fill="#e26464"/>
<rect x="836" y="176" width="1" height="36" fill="#111"/>
<rect x="835" y="181" width="3" height="21" fill="#111"/>
<rect x="836" y="182" width="1" height="19" fill="#e26464"/>
<rect x="840" y="218" width="1" height="47" fill="#111"/>
<rect x="839" y="218" width="3" height="25" fill="#111"/>
<rect x="840" y="219" width="1" height="23" fill="#4cc84c"/>
<rect x="844" y="220" width="1" height="22" fill="#111"/>
<rect x="843" y="224" width="3" height="2" fill="#111"/>
<rect x="849" y="190" width="1" height="26" fill="#111"/>
<rect x="848" y="198" width="3" height="17" fill="#111"/>
<rect x="849" y="199" width="1" height="15" fill="#4cc84c"/>
</g>
<path d="M0.0 335.6 C5.0 335.7 21.7 336.1 30.0 336.3 C38.3 336.5 41.7 336.8 50.0 337.0 C58.3 337.2 71.7 337.4 80.0 337.4 C88.3 337.4 93.0 337.3 100.0 337.0 C107.0 336.7 115.1 336.0 122.0 335.7 C128.9 335.4 135.2 335.4 141.5 335.0 C147.8 334.6 153.4 333.6 160.0 333.0 C166.6 332.4 175.3 331.9 181.0 331.1 C186.7 330.4 189.7 329.4 194.0 328.5 C198.3 327.6 202.7 326.7 207.0 326.0 C211.3 325.3 212.8 325.0 220.0 324.3 C227.2 323.6 240.0 322.5 250.0 321.6 C260.0 320.8 270.0 320.1 280.0 319.2 C290.0 318.3 301.7 317.4 310.0 316.5 C318.3 315.6 323.3 314.6 330.0 313.5 C336.7 312.4 342.5 311.5 350.0 310.0 C357.5 308.5 367.0 306.3 375.0 304.5 C383.0 302.7 388.8 301.4 398.0 299.0 C407.2 296.6 418.7 293.2 430.0 290.0 C441.3 286.8 454.3 283.1 466.0 279.7 C477.7 276.3 488.7 272.8 500.0 269.4 C511.3 266.0 522.7 262.3 534.0 259.2 C545.3 256.1 556.7 253.5 568.0 250.7 C579.3 247.8 590.7 245.3 602.0 242.1 C613.3 238.8 628.0 233.8 636.0 231.2 C644.0 228.6 645.7 228.4 650.0 226.8 C654.3 225.2 656.3 223.8 662.0 221.8 C667.7 219.8 676.7 216.9 684.0 214.7 C691.3 212.5 698.7 210.7 706.0 208.6 C713.3 206.5 720.7 204.3 728.0 202.0 C735.3 199.7 742.7 197.3 750.0 195.0 C757.3 192.7 764.7 190.4 772.0 187.9 C779.3 185.4 786.7 182.5 794.0 180.2 C801.3 177.9 809.7 176.0 816.0 174.1 C822.3 172.2 826.4 170.2 832.0 168.6 C837.6 167.0 846.6 165.2 849.5 164.5" fill="none" stroke="#0a0a0a" stroke-width="2.2" stroke-linejoin="round"/>
<path d="M0.0 347.7 C1.3 348.2 5.3 349.9 8.0 351.0 C10.7 352.1 13.3 353.2 16.0 354.3 C18.7 355.4 21.3 356.5 24.0 357.6 C26.7 358.7 29.3 359.7 32.0 360.7 C34.7 361.7 37.8 362.8 40.0 363.5 C42.2 364.2 42.5 364.2 45.0 365.0 C47.5 365.8 51.7 367.2 55.0 368.0 C58.3 368.8 61.4 369.3 65.0 370.0 C68.6 370.7 73.7 371.4 76.5 372.0 C79.3 372.6 79.8 373.1 82.0 373.5 C84.2 373.9 87.0 374.6 90.0 374.5 C93.0 374.4 96.7 373.5 100.0 373.0 C103.3 372.5 105.8 372.3 110.0 371.5 C114.2 370.7 120.0 369.3 125.0 368.0 C130.0 366.7 134.1 365.5 140.0 363.5 C145.9 361.5 152.9 360.3 160.4 356.0 C167.9 351.7 177.7 342.5 185.0 337.6 C192.3 332.7 198.2 330.3 204.0 326.6 C209.8 322.9 214.7 319.2 220.0 315.3 C225.3 311.4 230.5 307.2 236.0 303.0 C241.5 298.8 248.1 293.3 252.8 290.0 C257.5 286.7 260.6 285.1 264.0 283.2 C267.4 281.3 270.5 279.9 273.5 278.5 C276.5 277.1 279.2 276.1 282.0 274.8 C284.8 273.5 287.5 272.3 290.5 270.8 C293.5 269.3 296.2 267.8 300.0 265.8 C303.8 263.8 308.5 261.2 313.0 258.8 C317.5 256.4 322.7 253.7 327.0 251.3 C331.3 248.9 334.9 246.6 339.0 244.3 C343.1 242.0 347.3 239.5 351.3 237.3 C355.3 235.1 358.9 233.2 363.0 231.2 C367.1 229.1 371.9 227.0 375.6 225.0 C379.3 223.0 382.3 221.0 385.0 219.3 C387.7 217.6 389.1 216.7 391.8 214.9 C394.5 213.1 397.6 211.0 401.0 208.6 C404.4 206.2 408.5 203.3 412.0 200.7 C415.5 198.1 418.6 195.5 422.0 192.8 C425.4 190.1 429.0 187.2 432.3 184.5 C435.6 181.8 438.2 179.6 441.6 176.6 C445.0 173.6 449.4 169.4 452.6 166.3 C455.8 163.2 458.3 160.7 461.0 158.0 C463.7 155.3 465.3 153.7 468.8 150.0 C472.3 146.3 478.9 139.0 481.8 136.0 C484.7 133.0 484.1 133.6 486.0 131.9 C487.9 130.2 490.0 128.4 493.0 126.0 C496.0 123.6 499.8 120.5 504.0 117.7 C508.2 114.9 512.7 111.8 518.0 109.3 C523.3 106.8 530.0 104.8 535.7 102.6 C541.4 100.4 547.5 98.0 552.0 95.9 C556.5 93.9 558.7 91.6 563.0 90.3 C567.3 89.0 572.5 89.2 577.9 88.2 C583.3 87.2 590.5 85.9 595.5 84.6 C600.5 83.2 604.7 81.2 608.2 80.1 C611.7 79.0 613.0 78.6 616.6 78.0 C620.2 77.4 626.8 77.0 630.0 76.6 C633.2 76.2 633.5 75.9 636.0 75.6 C638.5 75.3 641.5 74.8 645.0 74.9 C648.5 75.0 652.7 75.9 657.0 76.3 C661.3 76.7 666.8 77.1 671.0 77.3 C675.2 77.5 678.4 77.2 682.0 77.7 C685.6 78.2 688.3 79.4 692.6 80.5 C696.9 81.6 702.4 83.6 708.0 84.2 C713.6 84.8 720.3 84.0 726.0 84.2 C731.7 84.4 737.3 85.1 742.0 85.3 C746.7 85.5 750.0 85.6 754.0 85.6 C758.0 85.6 762.3 85.7 766.0 85.3 C769.7 84.9 772.8 83.6 776.0 83.2 C779.2 82.8 781.8 82.4 785.0 83.0 C788.2 83.6 790.7 85.3 795.0 87.0 C799.3 88.7 806.0 91.0 811.0 92.9 C816.0 94.8 820.5 96.1 825.0 98.2 C829.5 100.3 834.0 103.1 838.0 105.5 C842.0 107.9 847.3 111.3 849.2 112.5" fill="none" stroke="#2858f5" stroke-width="1.3" stroke-linejoin="round"/>
<path d="M483.4 36.4 L939 69.6 M483.4 115.4 L939 149.6" fill="none" stroke="#5f8ef2" stroke-width="1"/>
<rect x="97" y="227" width="842" height="1" fill="#2db02d"/>
<rect x="1" y="290" width="938" height="3" fill="#2db02d"/>
<rect x="1" y="424" width="938" height="3" fill="#2db02d"/>
<line x1="32.2" y1="359.5" x2="939" y2="359.5" stroke="#2db02d" stroke-width="1" stroke-dasharray="4 3.9"/>
<line x1="0" y1="347.2" x2="240" y2="446.3" stroke="#222" stroke-width="1.1"/>
<line x1="0" y1="440.5" x2="939" y2="218.5" stroke="#1111ee" stroke-width="3.6"/>
<rect x="499" y="42" width="440" height="2" fill="#f00d0d"/>
<rect x="422" y="131" width="517" height="2" fill="#f00d0d"/>
<line x1="716.7" y1="99.5" x2="939" y2="99.5" stroke="#f00d0d" stroke-width="1.1" stroke-dasharray="19.7 8.2"/>
<g><line x1="866" y1="198.6" x2="882.2" y2="154" stroke="#10f010" stroke-width="4.8"/><polygon points="888.6,135.3 892.2,154.6 873.4,147.7" fill="#10f010"/></g>
</g>
<g shape-rendering="crispEdges" fill="#8a9aa6">
<rect x="938" y="24" width="1" height="422"/>
<rect x="1" y="445" width="938" height="1"/>
<rect x="56" y="445" width="1" height="4"/>
<rect x="145" y="445" width="1" height="4"/>
<rect x="225" y="445" width="1" height="4"/>
<rect x="314" y="445" width="1" height="4"/>
<rect x="398" y="445" width="1" height="4"/>
<rect x="479" y="445" width="1" height="4"/>
<rect x="567" y="445" width="1" height="4"/>
<rect x="660" y="445" width="1" height="4"/>
<rect x="740" y="445" width="1" height="4"/>
<rect x="832" y="445" width="1" height="4"/>
<rect x="921" y="445" width="1" height="4"/>
</g>
</svg>
<svg width="22" height="24" style="position:absolute;left:0;top:0" shape-rendering="crispEdges"><g fill="#57a52a"><rect x="6" y="11" width="1" height="10"/><rect x="5" y="13" width="3" height="6"/><rect x="11" y="9" width="1" height="9"/><rect x="10" y="11" width="3" height="5"/><rect x="16" y="5" width="1" height="10"/><rect x="15" y="7" width="3" height="6"/></g><g fill="#dfe9ee"><rect x="11" y="12" width="1" height="3"/><rect x="16" y="8" width="1" height="4"/></g></svg>
<div id="title"><span style="letter-spacing:-0.14px">EU Stocks 50 Cash (10€) Journalier </span><span style="letter-spacing:-0.06px">4 639,4 </span><span>+1,06 % 8 août 2024, </span><span style="letter-spacing:-0.73px">08:36:58</span></div>
<div id="brand">IT-Finance.com</div>
<div id="wm">IT-Finance.com</div>
<div class="tick" style="top:79px"></div>
<div class="yl b" style="top:71px;">5 000</div>
<div class="tick" style="top:150px"></div>
<div class="yl" style="top:141px;">4 800</div>
<div class="tick" style="top:185px"></div>
<div class="yl" style="top:176px;">4 700</div>
<div class="tick" style="top:220px"></div>
<div class="yl" style="top:211px;">4 600</div>
<div class="tick" style="top:255px"></div>
<div class="yl b" style="top:247px;">4 500</div>
<div class="tick" style="top:325px"></div>
<div class="yl" style="top:317px;">4 300</div>
<div class="tick" style="top:396px"></div>
<div class="yl" style="top:387px;">4 100</div>
<div class="tick" style="top:431px"></div>
<div class="yl" style="top:424px;">4 000</div>
<div class="tick" style="top:43px;background:#ee1111"></div>
<div class="yb" style="top:33px;background:linear-gradient(#f9a3a3,#ef7a7a);">5 102,0</div>
<div class="tick" style="top:99px;background:#ee1111"></div>
<div class="yb" style="top:86px;background:linear-gradient(#f9a3a3,#ef7a7a);">4 944,0</div>
<div class="tick" style="top:112px;background:#1438e8"></div>
<div class="yb" style="top:102px;background:linear-gradient(#fff,#eaeaea);color:#1438e8;">4 906,6</div>
<div class="tick" style="top:132px;background:#ee1111"></div>
<div class="yb" style="top:122px;background:linear-gradient(#f9a3a3,#ef7a7a);">4 848,0</div>
<div class="tick" style="top:164px;background:#111"></div>
<div class="yb" style="top:154px;background:linear-gradient(#fff,#eaeaea);">4 758,8</div>
<div class="tick" style="top:198px;background:#111"></div>
<div class="yb" style="top:188px;background:linear-gradient(#ffd640,#f5b200);">4 660,1</div>
<div class="tick" style="top:227px;background:#2db02d"></div>
<div class="yb" style="top:217px;background:linear-gradient(#b8eab4,#84d27f);">4 580,0</div>
<div class="tick" style="top:291px;background:#2db02d"></div>
<div class="yb" style="top:281px;background:linear-gradient(#b8eab4,#84d27f);">4 396,0</div>
<div class="tick" style="top:359px;background:#2db02d"></div>
<div class="yb" style="top:349px;background:linear-gradient(#b8eab4,#84d27f);">4 203,0</div>
<div class="tick" style="top:425px;background:#2db02d"></div>
<div class="yb" style="top:415px;background:linear-gradient(#b8eab4,#84d27f);">4 015,0</div>
<div class="xl" style="left:56.8px;">nov.</div>
<div class="xl" style="left:145.7px;">déc.</div>
<div class="xl" style="left:225.0px;font-weight:bold;font-size:16px;">2024</div>
<div class="xl" style="left:314.0px;">févr.</div>
<div class="xl" style="left:398.0px;">mars</div>
<div class="xl" style="left:479.0px;">avr.</div>
<div class="xl" style="left:567.0px;">mai</div>
<div class="xl" style="left:660.0px;">juin</div>
<div class="xl" style="left:740.0px;">juil.</div>
<div class="xl" style="left:832.0px;">août</div>
<div class="xl" style="left:921.0px;">sept.</div>
<div id="frame"></div>
</body></html>
